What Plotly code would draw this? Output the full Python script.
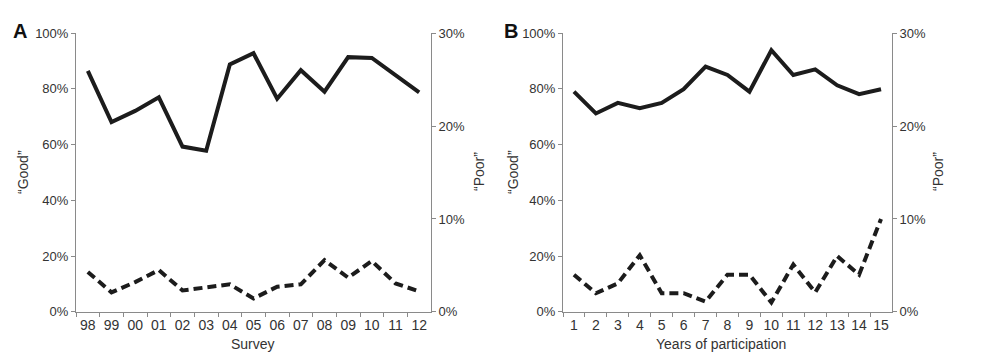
import plotly.graph_objects as go

survey_labels = ["98", "99", "00", "01", "02", "03", "04", "05", "06", "07", "08", "09", "10", "11", "12"]
survey_good = [86.5, 68.1, 72.1, 77.0, 59.3, 57.8, 88.8, 92.8, 76.5, 86.7, 79.0, 91.4, 91.1, 85.0, 78.8]
survey_poor = [4.3, 2.1, 3.2, 4.5, 2.3, 2.65, 2.96, 1.44, 2.7, 2.96, 5.57, 3.68, 5.47, 3.06, 2.2]

years_labels = ["1", "2", "3", "4", "5", "6", "7", "8", "9", "10", "11", "12", "13", "14", "15"]
years_good = [79.0, 71.2, 75.0, 73.1, 75.0, 79.9, 88.0, 85.0, 79.0, 93.9, 85.0, 87.0, 81.3, 78.1, 79.9]
years_poor = [4.0, 2.0, 3.06, 6.09, 2.0, 2.0, 1.1, 4.0, 4.0, 1.0, 5.1, 2.1, 6.0, 4.0, 10.0]

good_ticks = [0, 20, 40, 60, 80, 100]
poor_ticks = [0, 10, 20, 30]

W, H = 985, 353
LINE = "#1c1c1c"
AX = "#8a8a8a"
TXT = "#333333"
FONT = "Liberation Sans, Arial, sans-serif"

fig = go.Figure()
fig.add_trace(go.Scatter(x=survey_labels, y=survey_good, xaxis="x", yaxis="y", mode="lines",
                         line=dict(color=LINE, width=4), showlegend=False))
fig.add_trace(go.Scatter(x=survey_labels, y=survey_poor, xaxis="x", yaxis="y3", mode="lines",
                         line=dict(color=LINE, width=4, dash="9px,5px"), showlegend=False))
fig.add_trace(go.Scatter(x=years_labels, y=years_good, xaxis="x2", yaxis="y2", mode="lines",
                         line=dict(color=LINE, width=4), showlegend=False))
fig.add_trace(go.Scatter(x=years_labels, y=years_poor, xaxis="x2", yaxis="y4", mode="lines",
                         line=dict(color=LINE, width=4, dash="9px,5px"), showlegend=False))

ydom = [1 - 310 / H, 1 - 19 / H]
xdomA = [68 / W, 423 / W]
xdomB = [555 / W, 884 / W]

ytickfont = dict(family=FONT, size=13, color=TXT)
xtickfont = dict(family=FONT, size=14, color=TXT)

def xaxis(dom, anchor):
    return dict(domain=dom, anchor=anchor, type="category", range=[-0.5, 14.5],
                tickson="boundaries", ticks="outside", ticklen=4, tickcolor=AX, tickangle=0,
                showline=True, linecolor=AX, linewidth=1, showgrid=False, zeroline=False,
                tickfont=xtickfont, fixedrange=True)

def yleft(anchor):
    return dict(domain=ydom, anchor=anchor, range=[0, 100], tickvals=good_ticks,
                ticktext=[f"{v}%" for v in good_ticks], ticks="outside", ticklen=4, tickcolor=AX,
                showline=True, linecolor=AX, linewidth=1, showgrid=False, zeroline=False,
                tickfont=ytickfont, fixedrange=True)

def yright(anchor, overlay):
    return dict(anchor=anchor, overlaying=overlay, side="right", range=[0, 30], tickvals=poor_ticks,
                ticktext=[f"{v}%" for v in poor_ticks], ticks="outside", ticklen=4, tickcolor=AX,
                showline=True, linecolor=AX, linewidth=1, showgrid=False, zeroline=False,
                tickfont=ytickfont, fixedrange=True)

fig.update_layout(
    width=W, height=H,
    margin=dict(l=0, r=0, t=0, b=0),
    paper_bgcolor="white", plot_bgcolor="white",
    font=dict(family=FONT, color=TXT),
    xaxis=xaxis(xdomA, "y"),
    xaxis2=xaxis(xdomB, "y2"),
    yaxis=yleft("x"),
    yaxis2=yleft("x2"),
    yaxis3=yright("x", "y"),
    yaxis4=yright("x2", "y2"),
)

def ann(text, x, y, size=14, angle=0, bold=False, color=TXT):
    fig.add_annotation(text=f"<b>{text}</b>" if bold else text, x=x / W, y=1 - y / H,
                       xref="paper", yref="paper", showarrow=False, textangle=angle,
                       font=dict(family=FONT, size=size, color=color),
                       xanchor="center", yanchor="middle")

ann("A", 12, 17, size=20, bold=True, color="#111111")
ann("B", 503, 17, size=20, bold=True, color="#111111")
ann("“Good”", 15, 164, angle=-90)
ann("“Poor”", 471, 164, angle=-90)
ann("“Good”", 505, 164, angle=-90)
ann("“Poor”", 930, 164, angle=-90)
ann("Survey", 245, 344)
ann("Years of participation", 713, 344)

fig.write_html("out.html")
